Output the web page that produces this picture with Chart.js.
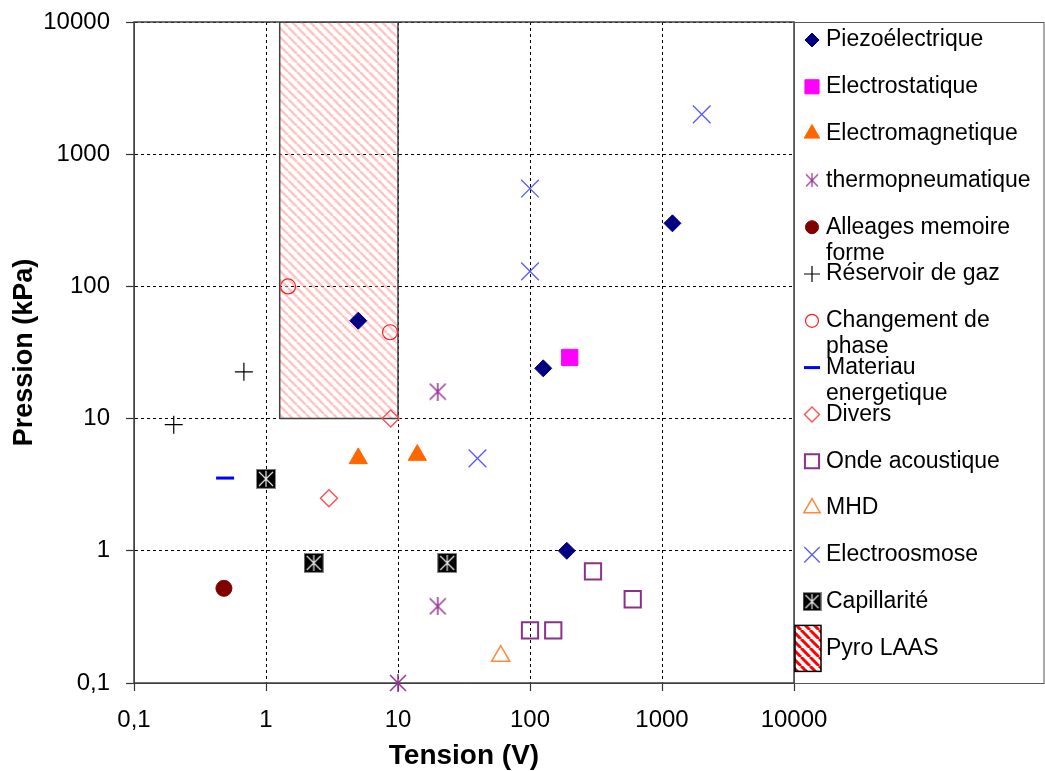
<!DOCTYPE html>
<html>
<head>
<meta charset="utf-8">
<script src="https://cdn.jsdelivr.net/npm/chart.js@4.4.0/dist/chart.umd.min.js"></script>
<style>
  html, body { margin: 0; padding: 0; background: #fff; }
  canvas { display: block; }
</style>
</head>
<body>
<canvas id="chart" width="1045" height="771"></canvas>
<script>
// tick values (both axes are log10)
const xTicks = [0.1, 1, 10, 100, 1000, 10000];
const yTicks = [0.1, 1, 10, 100, 1000, 10000];

// series: x = Tension (V), y = Pression (kPa)
const piezo = [{x: 5, y: 55}, {x: 126, y: 24}, {x: 1200, y: 300}, {x: 190, y: 1}];
const electrostatique = [{x: 200, y: 29}];
const electromagnetique = [{x: 5, y: 5}, {x: 14, y: 5.3}];
const thermopneumatique = [{x: 20, y: 16}, {x: 20, y: 0.38}, {x: 10, y: 0.1}];
const alliages = [{x: 0.48, y: 0.52}];
const reservoir = [{x: 0.68, y: 22.6}, {x: 0.2, y: 9}];
const changementPhase = [{x: 1.47, y: 100}, {x: 8.7, y: 45}];
const materiau = [{x: 0.49, y: 3.55}];
const divers = [{x: 8.8, y: 10}, {x: 3, y: 2.5}];
const ondeAcoustique = [{x: 300, y: 0.7}, {x: 600, y: 0.43}, {x: 100, y: 0.25}, {x: 150, y: 0.25}];
const mhd = [{x: 60, y: 0.16}];
const electroosmose = [{x: 2000, y: 2000}, {x: 100, y: 550}, {x: 100, y: 130}, {x: 40, y: 5}];
const capillarite = [{x: 1, y: 3.5}, {x: 2.3, y: 0.81}, {x: 23.6, y: 0.81}];
// Pyro LAAS zone: 1.27..10 V, 10..10000 kPa
const pyroLaas = [{x: 1.27, y: 10}, {x: 1.27, y: 10000}, {x: 10, y: 10000}, {x: 10, y: 10}, {x: 1.27, y: 10}];

const FONT = "'Liberation Sans', Arial, sans-serif";
Chart.defaults.font.family = FONT;
Chart.defaults.color = '#000';

function fmt(v) { return String(v).replace('.', ','); }

// asterisk marker (X + vertical bar)
function makeAsterisk(size, color, lw) {
    const c = document.createElement('canvas');
    c.width = c.height = size;
    const g = c.getContext('2d');
    g.strokeStyle = color; g.lineWidth = lw;
    g.beginPath();
    g.moveTo(size / 2, 0); g.lineTo(size / 2, size);
    g.moveTo(1, 1); g.lineTo(size - 1, size - 1);
    g.moveTo(size - 1, 1); g.lineTo(1, size - 1);
    g.stroke();
    return c;
}

// black box with light asterisk
function makeCapBox(size) {
    const c = document.createElement('canvas');
    c.width = c.height = size;
    const g = c.getContext('2d');
    g.fillStyle = '#000'; g.fillRect(0, 0, size, size);
    g.strokeStyle = '#888'; g.lineWidth = 1; g.strokeRect(0.5, 0.5, size - 1, size - 1);
    g.strokeStyle = '#e8e8e8'; g.lineWidth = 1.2;
    g.beginPath();
    g.moveTo(size / 2, 2); g.lineTo(size / 2, size - 2);
    g.moveTo(3, 3); g.lineTo(size - 3, size - 3);
    g.moveTo(size - 3, 3); g.lineTo(3, size - 3);
    g.stroke();
    return c;
}

function makeHatch(color, bg, s, lw) {
    const c = document.createElement('canvas');
    c.width = c.height = s;
    const g = c.getContext('2d');
    if (bg) { g.fillStyle = bg; g.fillRect(0, 0, s, s); }
    g.strokeStyle = color; g.lineWidth = lw;
    g.beginPath();
    for (let k = -1; k <= 1; k++) { g.moveTo(k * s, 0); g.lineTo(k * s + s, s); }
    g.stroke();
    return g.createPattern(c, 'repeat');
}

const ctx = document.getElementById('chart').getContext('2d');

function pts(label, data, style, fill, stroke, radius, bw, legendRadius, legendStyle) {
    return {
        label, data, clip: false,
        pointStyle: style, pointRadius: radius, pointHoverRadius: radius,
        pointBackgroundColor: fill, pointBorderColor: stroke, pointBorderWidth: bw,
        legendRadius, legendStyle
    };
}

const NONE = 'rgba(0,0,0,0)';
const datasets = [
    pts('Piezoélectrique', piezo, 'rectRot', '#000080', '#000080', 8.5, 1, 7),
    pts('Electrostatique', electrostatique, 'rect', '#ff00ff', '#ff00ff', 11.5, 1, 10),
    pts('Electromagnetique', electromagnetique, 'triangle', '#ff6600', '#ff6600', 10.5, 1, 9),
    pts('thermopneumatique', thermopneumatique, makeAsterisk(18, '#993399', 1.5), NONE, '#993399', 9, 1, 7, makeAsterisk(14, '#993399', 1.2)),
    pts('Alleages memoire forme', alliages, 'circle', '#800000', '#800000', 8, 1, 6.5),
    pts('Réservoir de gaz', reservoir, 'cross', NONE, '#000', 9, 1.2, 8),
    pts('Changement de phase', changementPhase, 'circle', NONE, '#ff2020', 7.5, 1.2, 6.5),
    pts('Materiau energetique', materiau, 'line', NONE, '#0000ff', 9, 3, 8),
    pts('Divers', divers, 'rectRot', NONE, '#ff5050', 8.5, 1.4, 7.5),
    pts('Onde acoustique', ondeAcoustique, 'rect', NONE, '#883388', 11.5, 2, 10),
    pts('MHD', mhd, 'triangle', NONE, '#ff8a3a', 10.5, 1.5, 9.5),
    pts('Electroosmose', electroosmose, 'crossRot', NONE, '#5a5aff', 12.5, 1.3, 11),
    pts('Capillarité', capillarite, makeCapBox(20), '#000', '#000', 10, 1, 9, makeCapBox(19)),
    {
        type: 'line', label: 'Pyro LAAS', data: pyroLaas,
        showLine: true, fill: 'shape', tension: 0,
        backgroundColor: makeHatch('rgba(255,150,150,0.55)', null, 9, 2.6),
        borderColor: '#404040', borderWidth: 1.5, pointRadius: 0, pointHoverRadius: 0,
        legendBox: makeHatch('#ff0000', '#fff', 9, 3)
    }
];

function wrap(c, text, maxW) {
    const words = text.split(' ');
    const lines = [];
    let cur = '';
    words.forEach(w => {
        const t = cur ? cur + ' ' + w : w;
        if (cur && c.measureText(t).width > maxW) { lines.push(cur); cur = w; }
        else cur = t;
    });
    lines.push(cur);
    return lines;
}

const frameAndLegend = {
    id: 'frameAndLegend',
    beforeDatasetsDraw(chart) {
        const {ctx, chartArea: a} = chart;
        ctx.save();
        ctx.strokeStyle = '#404040';
        ctx.lineWidth = 1.5;
        ctx.strokeRect(a.left, a.top, a.right - a.left, a.bottom - a.top);
        ctx.restore();
    },
    afterDraw(chart) {
        const {ctx, chartArea: a} = chart;
        ctx.save();
        ctx.strokeStyle = '#555';
        ctx.lineWidth = 1;
        ctx.strokeRect(a.right + 0.5, a.top + 0.5, chart.width - a.right - 1.5, a.bottom - a.top);
        ctx.font = '23px ' + FONT;
        ctx.textBaseline = 'middle';
        const step = 46.8;
        chart.data.datasets.forEach((ds, i) => {
            const cy = a.top + 18 + i * step;
            const cx = a.right + 18;
            if (ds.legendBox) {
                ctx.fillStyle = ds.legendBox;
                ctx.fillRect(a.right + 1, cy - 23, 26, 46);
                ctx.strokeStyle = '#000';
                ctx.lineWidth = 1.5;
                ctx.strokeRect(a.right + 1, cy - 23, 26, 46);
            } else {
                ctx.fillStyle = ds.pointBackgroundColor;
                ctx.strokeStyle = ds.pointBorderColor;
                ctx.lineWidth = ds.pointBorderWidth;
                Chart.helpers.drawPoint(ctx, {
                    pointStyle: ds.legendStyle || ds.pointStyle,
                    radius: ds.legendRadius, borderWidth: ds.pointBorderWidth, rotation: 0
                }, cx, cy);
            }
            ctx.fillStyle = '#000';
            wrap(ctx, ds.label, 210).forEach((t, k) => ctx.fillText(t, a.right + 32, cy + k * 26));
        });
        ctx.restore();
    }
};

function logAxis(ticks, fitFn, title, titleFont, titlePad, tickPad) {
    return {
        type: 'logarithmic', min: 0.1, max: 10000,
        afterBuildTicks: s => { s.ticks = ticks.map(v => ({value: v})); },
        afterFit: fitFn,
        ticks: { font: {size: 24}, padding: tickPad, maxRotation: 0, autoSkip: false, callback: v => fmt(v) },
        grid: { color: '#000', lineWidth: 1, drawTicks: true, tickLength: 8, tickColor: '#333', tickWidth: 1.2 },
        border: { display: true, color: '#404040', dash: [3, 3] },
        title: { display: true, text: title, font: titleFont, padding: titlePad }
    };
}

new Chart(ctx, {
    type: 'scatter',
    data: { datasets },
    options: {
        responsive: false,
        animation: false,
        events: [],
        layout: { padding: {left: 0, top: 22, right: 251, bottom: 0} },
        plugins: { legend: {display: false}, tooltip: {enabled: false} },
        scales: {
            x: Object.assign(logAxis(xTicks, s => { s.height = 88; }, 'Tension (V)',
                {size: 28, weight: 'bold', lineHeight: 1}, {top: 0, bottom: 1}, 15), {position: 'bottom'}),
            y: Object.assign(logAxis(yTicks, s => { s.width = 134; s.paddingTop = 0; s.paddingBottom = 0; }, 'Pression (kPa)',
                {size: 27, weight: 'bold', lineHeight: 1}, {top: 11, bottom: 0}, 16), {position: 'left'})
        }
    },
    plugins: [frameAndLegend]
});
</script>
</body>
</html>
